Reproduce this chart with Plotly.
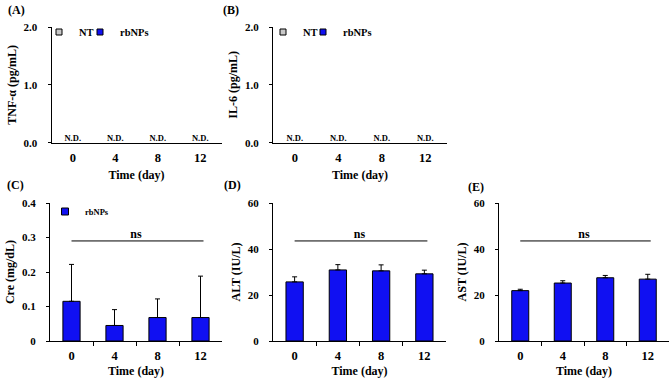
import plotly.graph_objects as go

# ---------------- data ----------------
days = ["0", "4", "8", "12"]
nd_labels = ["N.D.", "N.D.", "N.D.", "N.D."]
nd_baseline = [0, 0, 0, 0]

tnf_nt = [None, None, None, None]   # not detected
tnf_rb = [None, None, None, None]
il6_nt = [None, None, None, None]
il6_rb = [None, None, None, None]

cre = [0.115, 0.045, 0.068, 0.068]
cre_err = [0.107, 0.046, 0.054, 0.120]
alt = [25.7, 30.9, 30.5, 29.2]
alt_err = [2.2, 2.3, 2.6, 1.6]
ast = [21.9, 25.2, 27.5, 26.9]
ast_err = [0.6, 1.0, 1.0, 2.1]

ns_cre = 0.29
ns_alt = 43.5
ns_ast = 43.5

# ---------------- style ----------------
W, H = 669, 384
FONT = "Liberation Serif"
BLUE = "#1010F2"
GREY = "#C8C8C8"

xpos = list(range(len(days)))
bounds = [i + 0.5 for i in xpos[:-1]]
zeros = [0 for _ in xpos]


def px_x(a, b):
    return [a / W, b / W]


def px_y(top, bottom):
    return [1 - bottom / H, 1 - top / H]


fig = go.Figure()


def legend_proxy(name, vals, color, xa, ya, legend, size):
    fig.add_trace(go.Scatter(
        x=xpos, y=vals, name=name, mode="markers",
        marker=dict(symbol="square", size=size, color=color,
                    line=dict(color="black", width=1)),
        xaxis=xa, yaxis=ya, legend=legend, showlegend=True, hoverinfo="skip"))


def nd_text(xa, ya):
    fig.add_trace(go.Scatter(
        x=xpos, y=nd_baseline, text=nd_labels, mode="text",
        textposition="top center",
        textfont=dict(family=FONT, size=8.5, color="black", weight="bold"),
        xaxis=xa, yaxis=ya, showlegend=False, hoverinfo="skip"))


def bars(vals, errs, xa, ya):
    fig.add_trace(go.Bar(
        x=xpos, y=vals, width=0.4,
        marker=dict(color=BLUE, line=dict(color="black", width=1)),
        error_y=dict(type="data", symmetric=False, array=errs, arrayminus=zeros,
                     color="black", thickness=1, width=2.5),
        xaxis=xa, yaxis=ya, showlegend=False, hoverinfo="skip"))


def ns_line(level, xa, ya):
    mid = (xpos[0] + xpos[-1]) / 2
    fig.add_trace(go.Scatter(
        x=[xpos[0], mid, xpos[-1] + 0.07], y=[level, level, level],
        mode="lines+text", text=["", "ns", ""], textposition="top center",
        textfont=dict(family=FONT, size=12, color="black", weight="bold"),
        line=dict(color="black", width=1),
        xaxis=xa, yaxis=ya, showlegend=False, hoverinfo="skip"))


# Panel A
legend_proxy("NT", tnf_nt, GREY, "x", "y", "legend", 6)
legend_proxy("rbNPs", tnf_rb, BLUE, "x", "y", "legend2", 6)
nd_text("x", "y")
# Panel B
legend_proxy("NT", il6_nt, GREY, "x2", "y2", "legend3", 6)
legend_proxy("rbNPs", il6_rb, BLUE, "x2", "y2", "legend4", 6)
nd_text("x2", "y2")
# Panel C
bars(cre, cre_err, "x3", "y3")
ns_line(ns_cre, "x3", "y3")
legend_proxy("rbNPs", [None] * len(xpos), BLUE, "x3", "y3", "legend5", 7)
# Panel D
bars(alt, alt_err, "x4", "y4")
ns_line(ns_alt, "x4", "y4")
# Panel E
bars(ast, ast_err, "x5", "y5")
ns_line(ns_ast, "x5", "y5")

xtickfont = dict(family=FONT, size=12.5, color="black", weight="bold")
ytickfont = dict(family=FONT, size=11, color="black", weight="bold")
titlefont = dict(family=FONT, size=12, color="black", weight="bold")


def xaxis(dom, anchor, minor_ticks, standoff):
    d = dict(domain=dom, anchor=anchor, range=[-0.5, 3.5], automargin=False,
             tickmode="array", tickvals=xpos, ticktext=days, ticks="",
             showline=True, linecolor="black", linewidth=1,
             showgrid=False, zeroline=False, tickfont=xtickfont,
             ticklabelstandoff=3,
             title=dict(text="Time (day)", font=titlefont, standoff=standoff))
    if minor_ticks:
        d["minor"] = dict(tickmode="array", tickvals=bounds, ticks="outside",
                          ticklen=4, tickcolor="black", tickwidth=1)
    return d


def yaxis(dom, anchor, rng, dtick, fmt, title, standoff):
    return dict(domain=dom, anchor=anchor, range=rng, dtick=dtick, tick0=0,
                automargin=False,
                tickformat=fmt, ticks="outside", ticklen=3, tickcolor="black",
                showline=True, linecolor="black", linewidth=1,
                showgrid=False, zeroline=False, tickfont=ytickfont,
                ticklabelstandoff=8,
                title=dict(text=title, font=titlefont, standoff=4))


def legend_at(x, y, size):
    return dict(orientation="h", x=x / W, y=1 - y / H, xanchor="left", yanchor="middle",
                bgcolor="rgba(0,0,0,0)", font=dict(family=FONT, size=size, weight="bold"),
                itemwidth=30)


rowA_y = px_y(27, 142.7)
rowC_y = px_y(203, 341)

fig.update_layout(
    width=W, height=H, margin=dict(l=0, r=0, t=0, b=0, autoexpand=False),
    paper_bgcolor="white", plot_bgcolor="white",
    font=dict(family=FONT, color="black", weight="bold"),
    bargap=0,
    xaxis=xaxis(px_x(51.5, 221.5), "y", False, 6),
    yaxis=yaxis(rowA_y, "x", [0, 2], 1, ".1f", "TNF-α (pg/mL)", 4),
    xaxis2=xaxis(px_x(273, 447), "y2", False, 6),
    yaxis2=yaxis(rowA_y, "x2", [0, 2], 1, ".1f", "IL-6 (pg/mL)", 4),
    xaxis3=xaxis(px_x(50, 222), "y3", True, 4),
    yaxis3=yaxis(rowC_y, "x3", [0, 0.4], 0.1, "", "Cre (mg/dL)", 4),
    xaxis4=xaxis(px_x(273, 446), "y4", True, 4),
    yaxis4=yaxis(rowC_y, "x4", [0, 60], 20, "", "ALT (IU/L)", 4),
    xaxis5=xaxis(px_x(499, 669), "y5", True, 4),
    yaxis5=yaxis(rowC_y, "x5", [0, 60], 20, "", "AST (IU/L)", 4),
    legend=legend_at(39, 32, 10.5),
    legend2=legend_at(80, 32, 10.5),
    legend3=legend_at(263, 32, 10.5),
    legend4=legend_at(303, 32, 10.5),
    legend5=legend_at(45, 211.5, 8.5),
    annotations=[
        dict(text=t, x=x / W, y=1 - y / H, xref="paper", yref="paper",
             showarrow=False, xanchor="left", yanchor="middle",
             font=dict(family=FONT, size=12, color="black", weight="bold"))
        for t, x, y in [("(A)", 6, 10), ("(B)", 221, 10), ("(C)", 5, 185),
                        ("(D)", 222, 185), ("(E)", 466, 187)]
    ],
)

fig.write_html("out.html", config={"staticPlot": True, "displayModeBar": False},
               post_script="document.body.style.margin='0';")
